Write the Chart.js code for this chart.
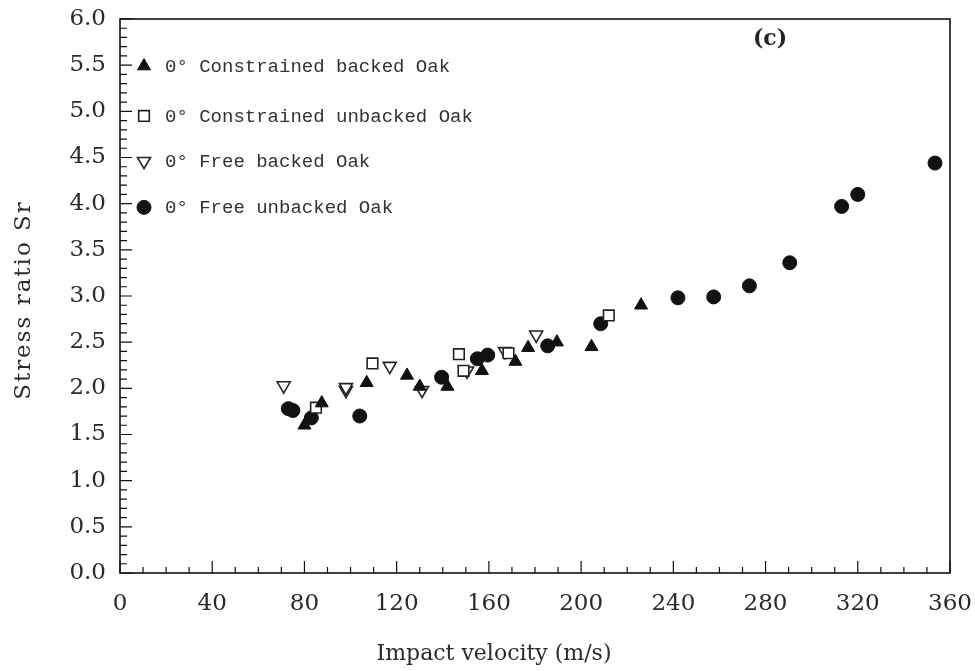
<!DOCTYPE html>
<html>
<head>
<meta charset="utf-8">
<script src="https://cdn.jsdelivr.net/npm/chart.js@4.4.1/dist/chart.umd.min.js"></script>
<style>
  html, body { margin: 0; padding: 0; background: #fff; }
  #wrap { width: 975px; height: 671px; }
</style>
</head>
<body>
<div id="wrap"><canvas id="chart1" width="975" height="671"></canvas></div>
<script>
// values (impact velocity m/s, stress ratio Sr)
var conBackedX = [80, 87.5, 107, 124.5, 130, 142, 157, 171.5, 177, 189.5, 204.5, 226];
var conBackedY = [1.60, 1.84, 2.06, 2.14, 2.02, 2.02, 2.19, 2.29, 2.44, 2.50, 2.45, 2.90];

var conUnbackedX = [85, 109.5, 147, 149, 168.5, 212];
var conUnbackedY = [1.79, 2.27, 2.37, 2.19, 2.38, 2.79];

var freeBackedX = [71, 98, 98, 117, 131, 150.5, 167, 180.5];
var freeBackedY = [2.03, 1.98, 2.01, 2.24, 1.98, 2.19, 2.40, 2.58];

var freeUnbackedX = [73, 75, 83, 104, 139.5, 155, 159.5, 185.5, 208.5, 242, 257.5, 273, 290.5, 313, 320, 353.5];
var freeUnbackedY = [1.78, 1.76, 1.68, 1.70, 2.12, 2.32, 2.36, 2.46, 2.70, 2.98, 2.99, 3.11, 3.36, 3.97, 4.10, 4.44];

var seriesNames = ["0\u00b0 Constrained backed Oak", "0\u00b0 Constrained unbacked Oak",
                   "0\u00b0 Free backed Oak", "0\u00b0 Free unbacked Oak"];
var xTitle = "Impact velocity (m/s)";
var yTitle = "Stress ratio Sr";

function pts(xs, ys) {
  return xs.map(function (x, i) { return { x: x, y: ys[i] }; });
}

var ink = "#111";
var serif = "'DejaVu Serif', serif";

// inward ticks, frame, axis titles, in-plot legend and panel tag
var decor = {
  id: "decor",
  afterDatasetsDraw: function (chart) {
    var ctx = chart.ctx, a = chart.chartArea;
    var xs = chart.scales.x, ys = chart.scales.y;
    ctx.save();
    ctx.strokeStyle = ink;
    ctx.lineWidth = 1.6;
    ctx.strokeRect(a.left, a.top, a.right - a.left, a.bottom - a.top);
    ctx.lineWidth = 1.2;
    ctx.beginPath();
    for (var v = 0; v <= 60; v++) {
      var py = ys.getPixelForValue(v / 10);
      var len = v % 5 === 0 ? 12 : 7;
      ctx.moveTo(a.left, py);
      ctx.lineTo(a.left + len, py);
    }
    for (var u = 0; u <= 360; u += 10) {
      var px = xs.getPixelForValue(u);
      var l2 = u % 40 === 0 ? 12 : 6;
      ctx.moveTo(px, a.bottom);
      ctx.lineTo(px, a.bottom - l2);
    }
    ctx.stroke();

    // axis titles
    ctx.fillStyle = "#2a2a2a";
    ctx.textAlign = "center";
    ctx.textBaseline = "middle";
    ctx.font = "22px " + serif;
    ctx.letterSpacing = "0px";
    ctx.fillText(xTitle, 494, 654);
    ctx.save();
    ctx.translate(24, 300);
    ctx.rotate(-Math.PI / 2);
    ctx.font = "23px " + serif;
    ctx.letterSpacing = "2px";
    ctx.fillText(yTitle, 0, 0);
    ctx.restore();
    ctx.letterSpacing = "0px";

    // legend
    ctx.font = "19px 'Liberation Mono', 'DejaVu Sans Mono', monospace";
    ctx.textBaseline = "middle";
    ctx.textAlign = "left";
    var legY = [5.49, 4.95, 4.46, 3.96];
    chart.data.datasets.forEach(function (ds, i) {
      var y = ys.getPixelForValue(legY[i]);
      var x = a.left + 24;
      ctx.fillStyle = ds.backgroundColor;
      ctx.strokeStyle = ds.borderColor;
      ctx.lineWidth = ds.borderWidth;
      Chart.helpers.drawPoint(ctx, {
        pointStyle: ds.pointStyle,
        rotation: ds.rotation || 0,
        radius: ds.pointRadius,
        borderWidth: ds.borderWidth
      }, x, y);
      ctx.fillStyle = "#333";
      ctx.fillText(ds.label, a.left + 45, y + 1);
    });

    ctx.font = "bold 22px " + serif;
    ctx.fillStyle = "#222";
    ctx.textAlign = "center";
    ctx.fillText("(c)", 770, 39);
    ctx.restore();
  }
};

document.addEventListener("DOMContentLoaded", function () {
  var ctx = document.getElementById("chart1");
  new Chart(ctx, {
    type: "scatter",
    data: {
      datasets: [
        { label: seriesNames[0], data: pts(conBackedX, conBackedY),
          pointStyle: "triangle", pointRadius: 7.5, backgroundColor: ink, borderColor: ink, borderWidth: 1 },
        { label: seriesNames[1], data: pts(conUnbackedX, conUnbackedY),
          pointStyle: "rect", pointRadius: 7.5, backgroundColor: "#fff", borderColor: "#222", borderWidth: 1.6 },
        { label: seriesNames[2], data: pts(freeBackedX, freeBackedY),
          pointStyle: "triangle", rotation: 180, pointRadius: 7.5, backgroundColor: "#fff", borderColor: "#222", borderWidth: 1.6 },
        { label: seriesNames[3], data: pts(freeUnbackedX, freeUnbackedY),
          pointStyle: "circle", pointRadius: 7, backgroundColor: ink, borderColor: ink, borderWidth: 1 }
      ]
    },
    options: {
      responsive: false,
      animation: false,
      layout: { padding: { top: 19, right: 25, left: 0, bottom: 0 } },
      plugins: { legend: { display: false }, tooltip: { enabled: false } },
      scales: {
        x: {
          type: "linear", min: 0, max: 360,
          afterFit: function (s) { s.height = 98; s.paddingLeft = 0; s.paddingRight = 0; },
          grid: { display: false, drawTicks: false },
          border: { display: false },
          ticks: { stepSize: 40, padding: 17, color: "#2a2a2a", font: { family: serif, size: 23 } },
          title: { display: false }
        },
        y: {
          type: "linear", min: 0, max: 6,
          afterFit: function (s) { s.width = 120; s.paddingTop = 0; s.paddingBottom = 0; },
          grid: { display: false, drawTicks: false },
          border: { display: false },
          ticks: { stepSize: 0.5, padding: 14, color: "#2a2a2a", font: { family: serif, size: 23 },
                   callback: function (v) { return v.toFixed(1); } },
          title: { display: false }
        }
      }
    },
    plugins: [decor]
  });
});
</script>
</body>
</html>
